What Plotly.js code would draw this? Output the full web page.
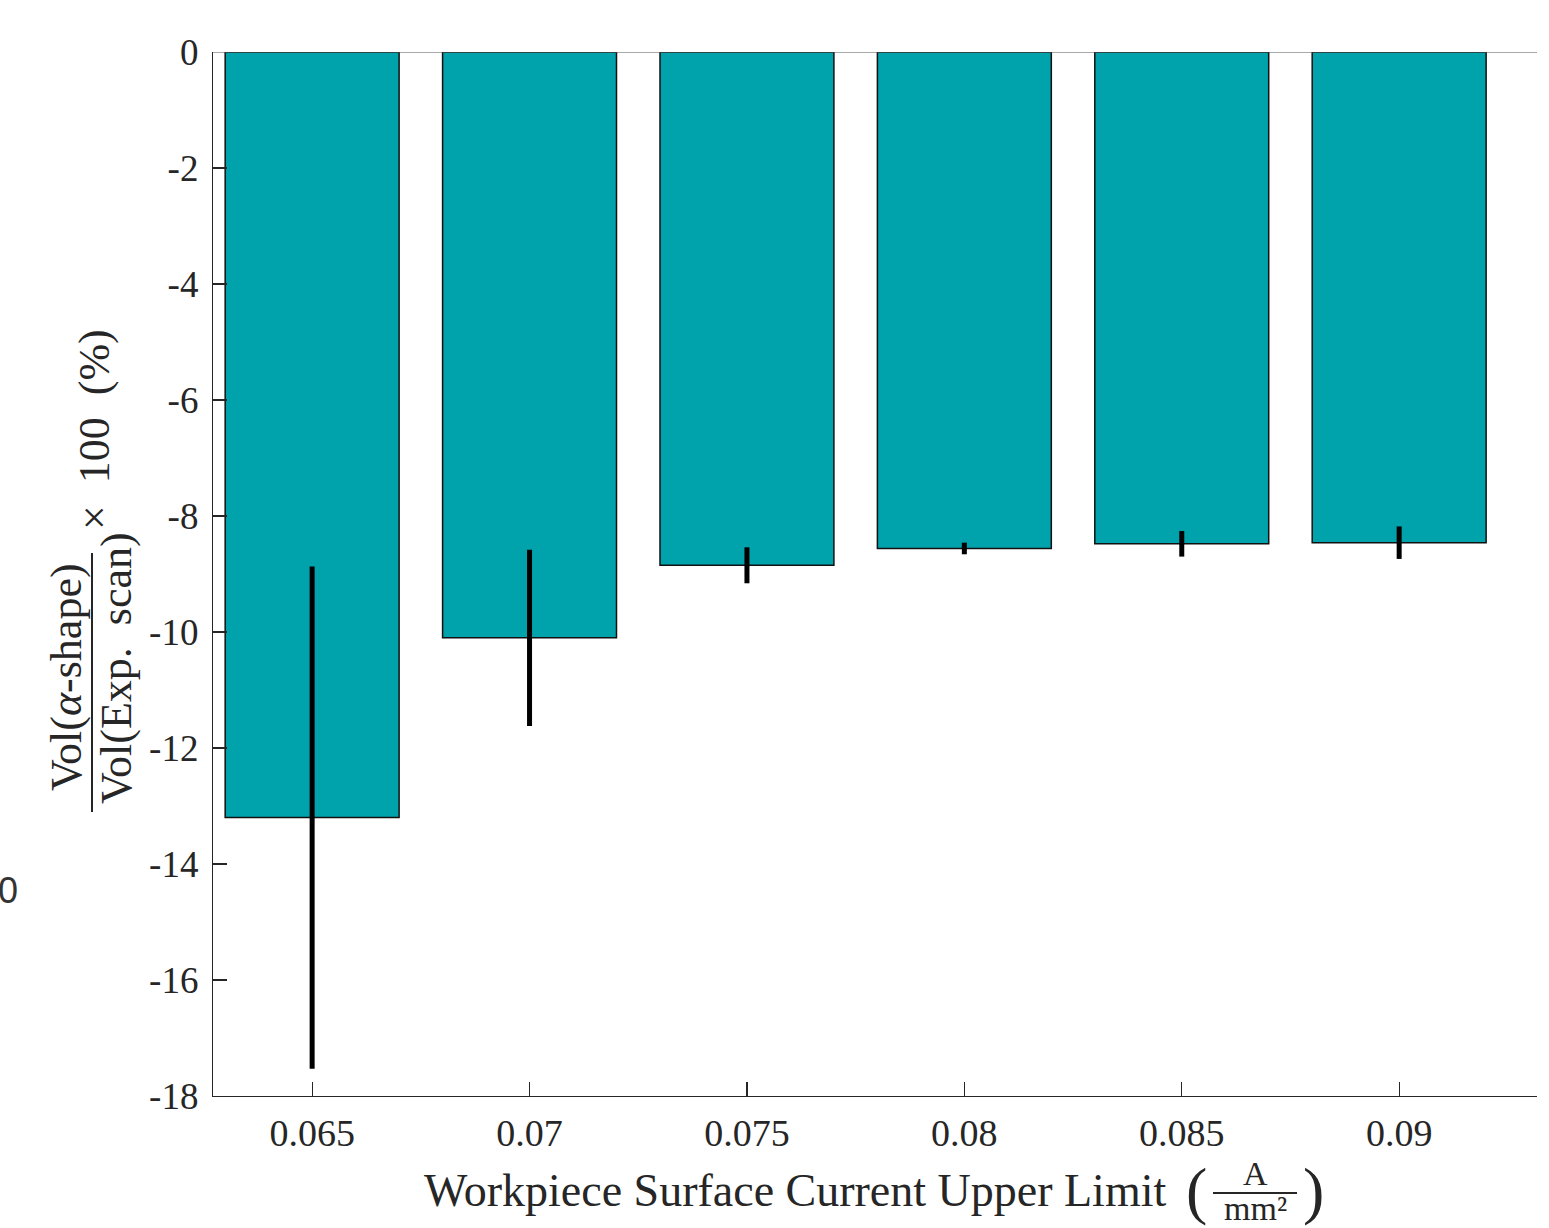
<!DOCTYPE html>
<html>
<head>
<meta charset="utf-8">
<script src="https://cdn.plot.ly/plotly-3.0.1.min.js"></script>
<style>html,body{margin:0;padding:0;background:#fff;}#chart{width:1549px;height:1228px;}</style>
</head>
<body>
<div id="chart"></div>
<script>
// ---- data ----
const currentLimits = [0.065, 0.07, 0.075, 0.08, 0.085, 0.09];
const tickLabels = ["0.065", "0.07", "0.075", "0.08", "0.085", "0.09"];
const volumeDiffPct = [-13.2, -10.1, -8.85, -8.56, -8.48, -8.46];
const volumeDiffErr = [4.33, 1.52, 0.31, 0.10, 0.22, 0.28];
const yTickVals = [0, -2, -4, -6, -8, -10, -12, -14, -16, -18];
const yTickText = ["0", "-2", "-4", "-6", "-8", "-10", "-12", "-14", "-16", "-18"];

// ---- layout helpers (pixel -> paper) ----
const W = 1549, H = 1228;
const L = 213, R = 1537, T = 52, B = 1096;
const xp = px => (px - L) / (R - L);
const yp = py => (B - py) / (B - T);

const serif = "Liberation Serif, Times New Roman, serif";
const tc = "#262626";

const trace = {
  type: "bar",
  x: currentLimits,
  y: volumeDiffPct,
  width: 0.004,
  marker: { color: "#00A2AB", line: { color: "#111", width: 1.5 } },
  error_y: { type: "data", array: volumeDiffErr, visible: true, color: "#000", thickness: 5, width: 0 },
  hoverinfo: "x+y"
};

function ann(text, px, py, size, opts) {
  return Object.assign({
    text: text, xref: "paper", yref: "paper", x: xp(px), y: yp(py),
    xanchor: "center", yanchor: "middle", showarrow: false,
    font: { family: serif, size: size, color: tc }
  }, opts || {});
}

const layout = {
  width: W, height: H,
  margin: { l: L, r: W - R, t: T, b: H - B, pad: 0 },
  paper_bgcolor: "#fff", plot_bgcolor: "#fff",
  showlegend: false,
  bargap: 0.2,
  xaxis: {
    range: [0.06272, 0.09317],
    tickvals: currentLimits, ticktext: tickLabels,
    ticks: "inside", ticklen: 14, tickwidth: 1.2, tickcolor: tc,
    showline: true, linecolor: tc, linewidth: 1.2,
    showgrid: false, zeroline: false,
    tickfont: { family: serif, size: 38, color: tc },
    ticklabelstandoff: 3
  },
  yaxis: {
    range: [-18, 0],
    tickvals: yTickVals, ticktext: yTickText,
    ticks: "inside", ticklen: 14, tickwidth: 1.2, tickcolor: tc,
    showline: true, linecolor: tc, linewidth: 1.2,
    showgrid: false, zeroline: false,
    tickfont: { family: serif, size: 37, color: tc },
    ticklabelstandoff: 6
  },
  shapes: [
    { type: "line", xref: "paper", yref: "y", x0: 0, x1: 1, y0: 0, y1: 0, line: { color: "#555", width: 1.2 } },
    // y title fraction bar
    { type: "line", xref: "paper", yref: "paper", x0: xp(92), x1: xp(92), y0: yp(553), y1: yp(812), line: { color: tc, width: 2 } },
    // x title fraction bar
    { type: "line", xref: "paper", yref: "paper", x0: xp(1213), x1: xp(1297), y0: yp(1193), y1: yp(1193), line: { color: tc, width: 2 } }
  ],
  annotations: [
    ann("Vol(<i>α</i>-shape)", 66, 677, 44, { textangle: -90 }),
    ann("Vol(Exp.  scan)", 116, 668, 44, { textangle: -90 }),
    ann("×  100  (%)", 95, 430, 44, { textangle: -90 }),
    ann("Workpiece Surface Current Upper Limit", 795, 1190, 46),
    ann("(", 1196, 1190, 64),
    ann(")", 1313, 1190, 64),
    ann("A", 1255, 1173, 34),
    ann("mm²", 1255, 1208, 34),
    ann("0", 8, 890, 36, { font: { family: "Liberation Sans, Arial, sans-serif", size: 36, color: "#333" } })
  ]
};

Plotly.newPlot("chart", [trace], layout, { displayModeBar: false, staticPlot: true });
</script>
</body>
</html>
